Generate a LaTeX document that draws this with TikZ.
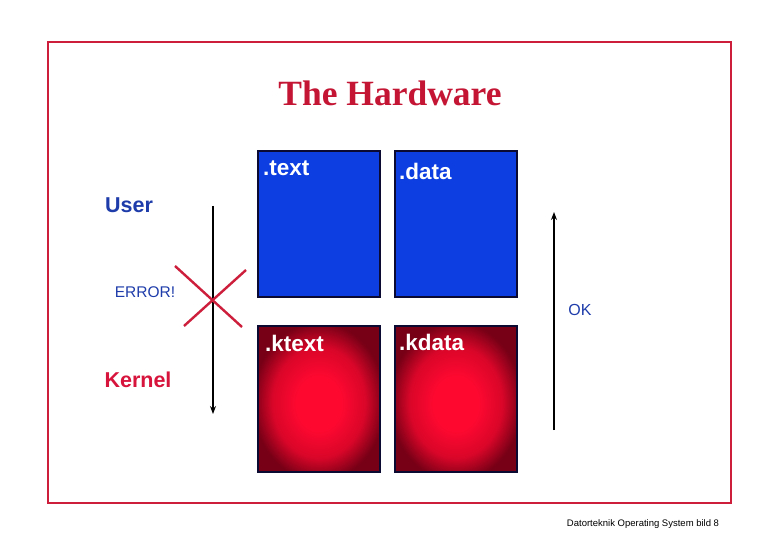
\documentclass[tikz,border=0pt]{standalone}
\usepackage{fontspec}
\setmainfont{Liberation Serif}
\setsansfont{Liberation Sans}
\usetikzlibrary{arrows.meta}
\definecolor{framered}{RGB}{205,30,60}
\definecolor{titlered}{RGB}{196,22,52}
\definecolor{txtblue}{RGB}{30,60,170}
\definecolor{kernred}{RGB}{215,20,60}
\definecolor{boxblue}{RGB}{12,62,226}
\definecolor{boxedge}{RGB}{10,10,50}
\definecolor{hotred}{RGB}{255,8,48}
\definecolor{deepred}{RGB}{120,0,22}
\pgfdeclareradialshading{redglow}{\pgfpoint{0bp}{-2bp}}{color(0bp)=(hotred); color(9bp)=(hotred); color(19bp)=(hotred!72!deepred); color(27bp)=(deepred); color(50bp)=(deepred)}
\tikzset{
  seg/.style={draw=boxedge, line width=1.6pt, minimum width=122pt, minimum height=146pt, inner sep=0pt, anchor=north west},
  userseg/.style={seg, fill=boxblue},
  kernseg/.style={seg, shading=redglow},
  seglabel/.style={font=\sffamily\bfseries\fontsize{22.5}{22.5}\selectfont, text=white, anchor=north west, inner sep=0pt},
  sidelabel/.style={font=\sffamily\bfseries\fontsize{21.5}{21.5}\selectfont, inner sep=0pt},
  smalllabel/.style={font=\sffamily\fontsize{15.5}{15.5}\selectfont, text=txtblue, inner sep=0pt},
  flow/.style={line width=1.2pt, -{Stealth[length=8pt,width=6pt]}},
  cross/.style={draw=framered, line width=2.4pt}
}
\begin{document}
\begin{tikzpicture}[x=1pt,y=-1pt]
\useasboundingbox (0,0) rectangle (780,540);
\fill[white] (0,0) rectangle (780,540);
\draw[framered, line width=1.6pt] (48,42) rectangle (731,503);
\node[font=\bfseries\fontsize{35.5}{35.5}\selectfont, text=titlered] (title) at (390,93) {The Hardware};

\node[userseg] (text) at (257,150) {};
\node[userseg] (data) at (394,150) {};
\node[kernseg] (ktext) at (257,325) {};
\node[kernseg] (kdata) at (394,325) {};

\node[seglabel] (ltext) at (263,161) {.text};
\node[seglabel] (ldata) at (399,163) {.data};
\node[seglabel] (lktext) at (265,335) {.ktext};
\node[seglabel] (lkdata) at (399,334) {.kdata};

\node[sidelabel, text=txtblue] (user) at (129,205) {User};
\node[sidelabel, text=kernred] (kernel) at (138,380) {Kernel};
\node[smalllabel] (error) at (145,292) {ERROR!};
\node[smalllabel, font=\sffamily\fontsize{16}{16}\selectfont] (ok) at (580,310) {OK};

\coordinate (dtop) at (213,206);
\coordinate (dbot) at (213,414);
\draw[flow] (dtop) -- (dbot);
\coordinate (utop) at (554,212);
\coordinate (ubot) at (554,430);
\draw[flow] (ubot) -- (utop);

\coordinate (xa) at (175,266);
\coordinate (xb) at (242,327);
\coordinate (xc) at (246,270);
\coordinate (xd) at (184,326);
\draw[cross] (xa) -- (xb);
\draw[cross] (xc) -- (xd);

\node[font=\sffamily\fontsize{9.5}{9.5}\selectfont, inner sep=0pt] (foot) at (643,524) {Datorteknik Operating System bild 8};
\end{tikzpicture}
\end{document}
